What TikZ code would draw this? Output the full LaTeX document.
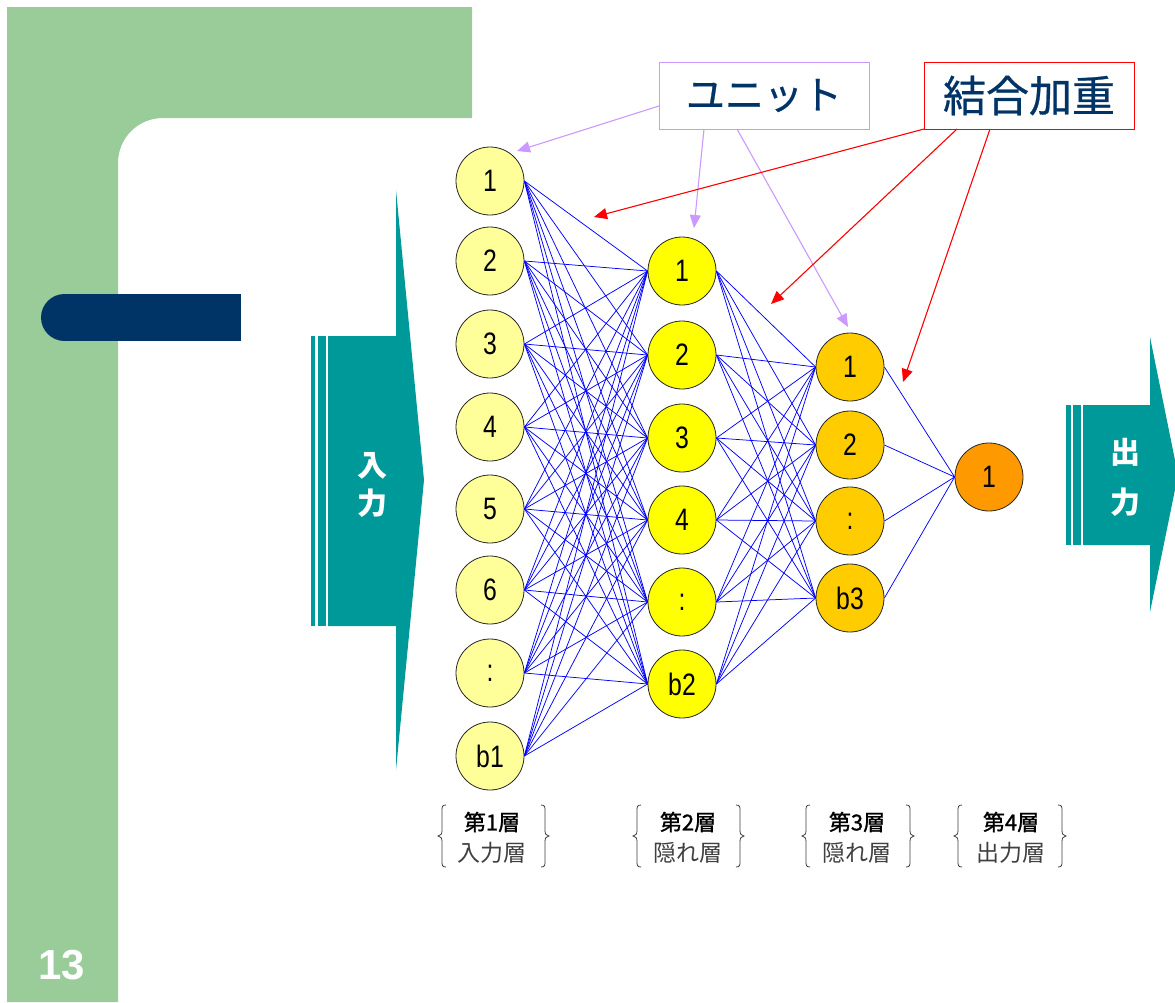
\documentclass[tikz,border=0pt]{standalone}
\usepackage{fontspec}
\setmainfont{Liberation Sans}
\newfontfamily\jp{Noto Sans CJK JP}
\newfontfamily\jpmed[FakeBold=0.6]{Noto Sans CJK JP}
\newfontfamily\jpsemi[FakeBold=1.2]{Noto Sans CJK JP}
\newfontfamily\numfont[FakeStretch=0.8]{Liberation Sans}
\usetikzlibrary{arrows.meta,calc}
\definecolor{bggreen}{HTML}{99CC99}
\definecolor{navy}{HTML}{003366}
\definecolor{teal1}{HTML}{009999}
\definecolor{ly}{HTML}{FFFF99}
\definecolor{yy}{HTML}{FFFF00}
\definecolor{gold1}{HTML}{FFCC00}
\definecolor{orng}{HTML}{FF9900}
\definecolor{lav}{HTML}{CC99FF}
\definecolor{labgray}{HTML}{404040}
\tikzset{
  unit/.style={circle, draw=black!85, line width=0.8pt, minimum size=68pt, inner sep=0pt,
    font=\numfont\fontsize{31}{31}\selectfont},
  l1/.style={unit, fill=ly},
  l2/.style={unit, fill=yy},
  l3/.style={unit, fill=gold1},
  l4/.style={unit, fill=orng},
  edge/.style={draw=blue, line width=0.75pt},
  lavarrow/.style={draw=lav, line width=1.1pt, -{Triangle[length=13pt,width=11pt]}},
  redarrow/.style={draw=red, line width=1.1pt, -{Triangle[length=13pt,width=11pt]}},
  arrowtext/.style={text=white, font=\jp\bfseries\fontsize{30}{30}\selectfont},
  calloutbox/.style={line width=1pt, fill=white, minimum width=210pt, minimum height=67pt,
    text=navy},
  labtop/.style={font=\jpsemi\fontsize{22}{22}\selectfont, text=black},
  labbot/.style={font=\jp\fontsize{23}{23}\selectfont, text=labgray},
  brace/.pic={\draw[line width=0.8pt, labgray] (4,-31) .. controls (0,-31) and (0,-29) .. (0,-25) -- (0,-5) .. controls (0,-2) .. (-4,0) .. controls (0,2) .. (0,5) -- (0,25) .. controls (0,29) and (0,31) .. (4,31);}
}
\begin{document}
\begin{tikzpicture}[x=1pt, y=-1pt]
\clip (0,0) rectangle (1175,1002);
\fill[white] (0,0) rectangle (1175,1002);
% background frame
\fill[bggreen] (7,7) -- (472,7) -- (472,118) -- (163,118) .. controls (138,118) and (118,138) .. (118,163) -- (118,1002) -- (7,1002) -- cycle;
\fill[navy] (64.5,294) rectangle (241,341);
\fill[navy] (64.5,317.5) circle (23.5);
\node[text=white, font=\bfseries\fontsize{42}{42}\selectfont] (page) at (62,965) {13};
% input arrow
\fill[teal1] (311,336) rectangle (315,626);
\fill[teal1] (318,336) rectangle (326,626);
\fill[teal1] (328,336) -- (396,336) -- (396,190) -- (424,480) -- (396,770) -- (396,626) -- (328,626) -- cycle;
\node[arrowtext] (in1) at (372,466) {入};
\node[arrowtext] (in2) at (372,503) {力};
% output arrow
\fill[teal1] (1066,405) rectangle (1071,545);
\fill[teal1] (1073,405) rectangle (1081,545);
\fill[teal1] (1083,405) -- (1150,405) -- (1150,337) -- (1178,475) -- (1150,612) -- (1150,545) -- (1083,545) -- cycle;
\node[arrowtext] (out1) at (1125,452) {出};
\node[arrowtext] (out2) at (1125,502) {力};
% layer 1
\foreach \n/\y/\t in {1/181/1, 2/261/2, 3/344/3, 4/427/4, 5/509/5, 6/590/6, 7/673/:, 8/756/b1}
  \node[l1] (a\n) at (490,\y) {\t};
% layer 2
\foreach \n/\y/\t in {1/271/1, 2/355/2, 3/438/3, 4/520/4, 5/602/:, 6/684/b2}
  \node[l2] (b\n) at (682,\y) {\t};
% layer 3
\foreach \n/\y/\t in {1/367/1, 2/445/2, 3/521/:, 4/598/b3}
  \node[l3] (c\n) at (850,\y) {\t};
% layer 4
\node[l4] (d1) at (989,477) {1};
% connections
\foreach \i in {1,...,8} \foreach \j in {1,...,6} \draw[edge] (a\i.east) -- (b\j.west);
\foreach \i in {1,...,6} \foreach \j in {1,...,4} \draw[edge] (b\i.east) -- (c\j.west);
\foreach \i in {1,...,4} \draw[edge] (c\i.east) -- (d1.west);
% callouts
\node[calloutbox, draw=lav, font=\jpmed\fontsize{39}{39}\selectfont] (unitbox) at (764,95.5) {ユニット};
\node[calloutbox, draw=red, font=\jpmed\fontsize{43}{43}\selectfont] (wbox) at (1029,95.5) {結合加重};
\coordinate (u1) at (659,106);
\coordinate (u2) at (704,129);
\coordinate (u3) at (737,129);
\coordinate (w1) at (924,129);
\coordinate (w2) at (957,129);
\coordinate (w3) at (990,129);
\coordinate (tu1) at (517,151);
\coordinate (tu2) at (694,228);
\coordinate (tu3) at (848,327);
\coordinate (tw1) at (594,217);
\coordinate (tw2) at (771,304);
\coordinate (tw3) at (903,382);
\draw[lavarrow] (u1) -- (tu1);
\draw[lavarrow] (u2) -- (tu2);
\draw[lavarrow] (u3) -- (tu3);
\draw[redarrow] (w1) -- (tw1);
\draw[redarrow] (w2) -- (tw2);
\draw[redarrow] (w3) -- (tw3);
% layer labels
\foreach \k/\xl/\xc/\xr/\top/\bot in {1/442/492/545/第1層/入力層, 2/637/688/740/第2層/隠れ層, 3/806/857/910/第3層/隠れ層, 4/958/1011/1062/第4層/出力層}{
  \node[labtop] (lt\k) at (\xc,822) {\top};
  \node[labbot] (lb\k) at (\xc,853) {\bot};
  \pic at (\xl,836) {brace};
  \pic[xscale=-1] at (\xr,836) {brace};
}
\end{tikzpicture}
\end{document}
